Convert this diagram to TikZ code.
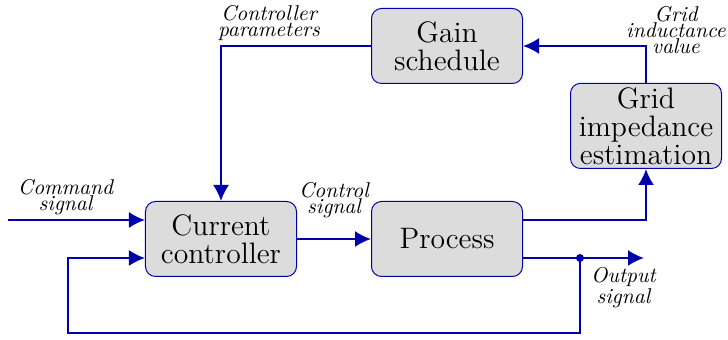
\documentclass[tikz,border=0pt]{standalone}
\usepackage{xcolor}
\usepackage{tikz}
\usetikzlibrary{arrows.meta,positioning}
\definecolor{loopBlue}{HTML}{0000AA}
\definecolor{loopGray}{HTML}{DCDCDC}
\tikzset{
  loopblock/.style={rectangle,draw=loopBlue,fill=loopGray,rounded corners=5pt,line width=0.5pt,
    minimum width=75.5pt,minimum height=37.5pt,inner sep=2pt,align=center,font=\fontsize{14.8}{14}\selectfont},
  looplabel/.style={align=center,inner sep=2pt,font=\fontsize{10.7}{8}\selectfont\itshape},
  sigarrow/.style={-{Latex[length=8pt,width=8pt]},draw=loopBlue,line width=1pt}
}
\begin{document}
\begin{tikzpicture}[node distance=37pt]
  \useasboundingbox (-110.5pt,-50.5pt) rectangle (253.5pt,119.5pt);
  \node[loopblock] (cc) {Current\\controller};
  \node[loopblock, right=of cc] (proc) {Process};
  \node[loopblock, above=58.5pt of proc] (gain) {Gain\\schedule};
  \node[loopblock, above right=16pt and 23.5pt of proc.north east] (gie) {Grid\\impedance\\estimation};
  \coordinate (cmdin) at ([xshift=-68.5pt,yshift=9.5pt]cc.west);
  \coordinate (tap) at ([xshift=28.5pt,yshift=-9.5pt]proc.east);
  \coordinate (out) at ([xshift=60.5pt,yshift=-9.5pt]proc.east);
  \coordinate (fbl) at ([xshift=-38.5pt,yshift=-9.5pt]cc.west);
  \draw[sigarrow] (cmdin) -- node[looplabel, above, pos=0.42] {Command\\signal} (cmdin -| cc.west);
  \draw[sigarrow] (cc) -- node[looplabel, above=8pt] {Control\\signal} (proc);
  \draw[sigarrow] ([yshift=9.5pt]proc.east) -| (gie.south);
  \draw[sigarrow] (gie.north) |- node[looplabel, pos=0.5, xshift=15pt, yshift=8pt] {Grid\\inductance\\value} (gain.east);
  \draw[sigarrow] (gain.west) -| node[looplabel, above, pos=0.34] {Controller\\parameters} (cc.north);
  \draw[sigarrow] ([yshift=-9.5pt]proc.east) -- node[looplabel, below=2pt, pos=0.83] {Output\\signal} (out);
  \fill[loopBlue] (tap) circle (2pt);
  \draw[sigarrow] (tap) -- ++(0,-37.5pt) -| (fbl) -- (fbl -| cc.west);
\end{tikzpicture}
\end{document}
